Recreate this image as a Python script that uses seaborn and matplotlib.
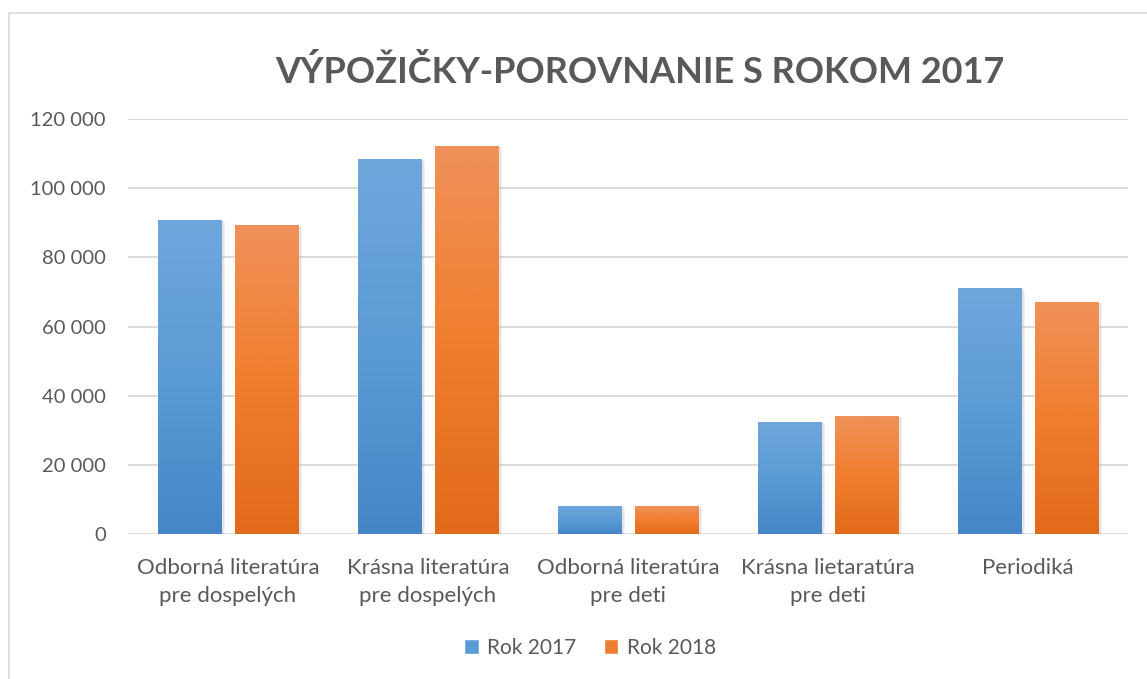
import numpy as np
import pandas as pd
import matplotlib
matplotlib.use("Agg")
import matplotlib.pyplot as plt
import matplotlib.patheffects as pe
from matplotlib.colors import LinearSegmentedColormap
from matplotlib.patches import Rectangle
import seaborn as sns

categories = ["Odborná literatúra\npre dospelých", "Krásna literatúra\npre dospelých",
              "Odborná literatúra\npre deti", "Krásna lietaratúra\npre deti", "Periodiká"]
series_names = ["Rok 2017", "Rok 2018"]
values_2017 = [90800, 108400, 8100, 32400, 71100]
values_2018 = [89300, 112200, 8100, 34100, 67100]
yticks = [0, 20000, 40000, 60000, 80000, 100000, 120000]
ytick_labels = ["0", "20 000", "40 000", "60 000", "80 000", "100 000", "120 000"]
title = "VÝPOŽIČKY-POROVNANIE S ROKOM 2017"

df = pd.DataFrame({
    "kategoria": categories * 2,
    "rok": [series_names[0]] * 5 + [series_names[1]] * 5,
    "hodnota": values_2017 + values_2018,
})

sns.set_theme(style="white")
plt.rcParams["font.family"] = ["Lato", "DejaVu Sans"]
text_color = "#595959"

fig = plt.figure(figsize=(11.47, 6.79), dpi=100)
W, H = 1147, 679
ax = fig.add_axes([128 / W, 1 - 534 / H, 1000 / W, 415 / H])

blue_mid, orange_mid = "#5B9BD5", "#ED7D31"
sns.barplot(data=df, x="kategoria", y="hodnota", hue="rok", order=categories,
            hue_order=series_names, palette=[blue_mid, orange_mid],
            width=0.77, gap=0.18, ax=ax, legend=True, saturation=1)

cmaps = {
    "b": LinearSegmentedColormap.from_list("b", ["#4586C6", "#5B9BD5", "#6FA7DC"]),
    "o": LinearSegmentedColormap.from_list("o", ["#E26A1B", "#F07E2E", "#F0915A"]),
}
grad = np.linspace(0, 1, 256).reshape(-1, 1)
bars = [p for p in ax.patches if p.get_height() > 0]
for p in bars:
    fc = matplotlib.colors.to_hex(p.get_facecolor())
    key = "b" if fc.lower() == blue_mid.lower() else "o"
    x0, w, h = p.get_x(), p.get_width(), p.get_height()
    p.set_path_effects([
        pe.SimplePatchShadow(offset=(3, -1), shadow_rgbFace="#9a9a9a", alpha=0.12),
        pe.SimplePatchShadow(offset=(2, -0.5), shadow_rgbFace="#9a9a9a", alpha=0.18),
        pe.SimplePatchShadow(offset=(1, 0), shadow_rgbFace="#9a9a9a", alpha=0.25),
        pe.Normal()])
    im = ax.imshow(grad, cmap=cmaps[key], aspect="auto", origin="lower",
                   extent=[x0, x0 + w, 0, h], zorder=p.get_zorder() + 0.1)
    im.set_clip_path(p)

ax.set_xlim(-0.5, 4.5)
ax.set_ylim(0, 120000)
ax.set_yticks(yticks)
ax.set_yticklabels(ytick_labels)
ax.set_xlabel("")
ax.set_ylabel("")
ax.grid(axis="y", color="#D9D9D9", linewidth=1.3)
ax.set_axisbelow(True)
for s in ax.spines.values():
    s.set_visible(False)
ax.tick_params(axis="y", length=0, pad=16, labelsize=14.5, labelcolor=text_color)
ax.tick_params(axis="x", length=0, pad=17, labelsize=16, labelcolor=text_color)
for t in ax.get_xticklabels():
    t.set_linespacing(1.55)
for t in ax.get_yticklabels():
    t.set_horizontalalignment("right")

leg = fig.legend(*ax.get_legend_handles_labels(), loc="center",
                 bbox_to_anchor=(590 / W, 1 - 648 / H), ncol=2, frameon=False,
                 fontsize=15, handlelength=0.7, handleheight=0.7, handletextpad=0.4,
                 columnspacing=1.3)
ax.get_legend().remove()
for t in leg.get_texts():
    t.set_color(text_color)

fig.text(640 / W, 1 - 72 / H, title, ha="center", va="center", fontsize=26,
         fontweight="bold", color=text_color)

fig.patches.append(Rectangle((9 / W, -0.05), 1.2, 1 - 13 / H + 0.05, transform=fig.transFigure,
                             fill=False, edgecolor="#D9D9D9", linewidth=1.2))

fig.savefig("out.png", dpi=100, facecolor="white")
